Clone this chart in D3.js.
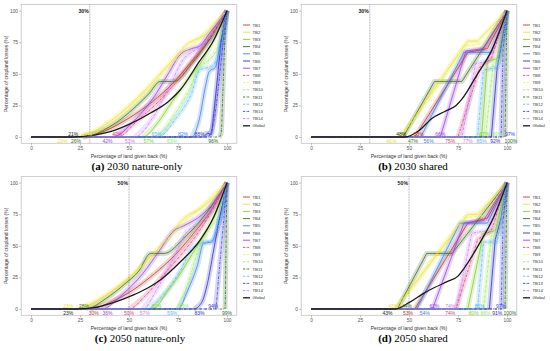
<!DOCTYPE html>
<html>
<head>
<meta charset="utf-8">
<script src="https://cdn.jsdelivr.net/npm/d3@7"></script>
<style>
  body { margin: 0; background: #fff; }
  svg { display: block; }
</style>
</head>
<body>
<script>
// series
const seriesNames = ["TB1","TB2","TB3","TB4","TB5","TB6","TB7","TB8","TB9","TB10","TB11","TB12","TB13","TB14","Global"];
const axisTicks = [0, 25, 50, 75, 100];

// palette (kept apart from data)
const seriesColors = ["#c0392b","#e8e42a","#7ed321","#3f6e22","#3d7ff5","#3030c8","#9b40f0",
                      "#d9437a","#f0f060","#90ee60","#2e6a1f","#5ab4ff","#3a3af0","#c77dff","#1a1a1a"];
const seriesDashed = [false,false,false,false,false,false,false,true,true,true,true,true,true,true,false];

// [land given back %, cropland losses %] per series, order as seriesNames
const curves2030Nature = [
  [[0,0],[27,0],[38,5],[50,15],[62,28],[72,42],[82,60],[90,75],[100,100]],
  [[0,0],[23,0],[35,7],[45,18],[57,35],[70,57],[81,75],[88,80],[100,100]],
  [[0,0],[57,0],[65,12],[72,28],[80,45],[88,62],[100,100]],
  [[0,0],[26,0],[40,8],[52,22],[60,34],[66,44],[73,44],[82,58],[91,77],[100,100]],
  [[0,0],[82,0],[86,15],[89,40],[91,52],[94,55],[97,78],[100,100]],
  [[0,0],[88,0],[90,3],[92,2],[93,15],[95,45],[97,75],[100,100]],
  [[0,0],[42,0],[52,12],[62,30],[70,50],[76,65],[82,70],[86,72],[91,82],[100,100]],
  [[0,0],[44,0],[55,14],[65,28],[75,45],[85,65],[100,100]],
  [[0,0],[27,0],[36,6],[48,20],[60,38],[72,58],[84,75],[100,100]],
  [[0,0],[65,0],[72,15],[80,35],[86,55],[90,60],[95,70],[100,100]],
  [[0,0],[96,0],[97,3],[98,40],[99,80],[100,100]],
  [[0,0],[65,0],[74,15],[82,35],[86,53],[92,56],[96,65],[100,100]],
  [[0,0],[90,0],[93,10],[96,45],[98,75],[100,100]],
  [[0,0],[53,0],[62,15],[70,38],[78,62],[85,70],[92,80],[100,100]],
  [[0,0],[21,0],[30,1],[40,4],[50,10],[61,19],[70,28],[76,37],[86,60],[93,76],[100,100]]
];
const curves2030Shared = [
  [[0,0],[53,0],[80,67],[90,70],[100,100]],
  [[0,0],[46,0],[80,76],[85,76],[100,100]],
  [[0,0],[87,0],[90,60],[95,62],[100,100]],
  [[0,0],[47,0],[63,44],[77,44],[100,100]],
  [[0,0],[56,0],[78,67],[92,67],[100,100]],
  [[0,0],[92,0],[95,55],[97,72],[100,100]],
  [[0,0],[66,0],[79,68],[88,70],[100,100]],
  [[0,0],[75,0],[86,55],[92,62],[100,100]],
  [[0,0],[46,0],[78,72],[88,74],[100,100]],
  [[0,0],[89,0],[93,58],[97,60],[100,100]],
  [[0,0],[99,0],[100,100]],
  [[0,0],[85,0],[88,53],[95,55],[100,100]],
  [[0,0],[97,0],[98,70],[100,100]],
  [[0,0],[77,0],[84,58],[90,60],[100,100]],
  [[0,0],[48,0],[55,5],[62,15],[68,20],[74,25],[77,30],[85,50],[92,68],[100,100]]
];
const curves2050Nature = [
  [[0,0],[30,0],[40,5],[52,15],[63,28],[73,42],[83,60],[91,76],[100,100]],
  [[0,0],[23,0],[35,8],[47,21],[57,35],[68,53],[79,73],[87,80],[100,100]],
  [[0,0],[62,0],[70,15],[77,30],[84,48],[90,63],[100,100]],
  [[0,0],[28,0],[38,8],[48,20],[55,30],[61,44],[68,44],[78,56],[89,75],[100,100]],
  [[0,0],[75,0],[80,15],[85,35],[88,52],[92,53],[96,70],[100,100]],
  [[0,0],[83,0],[87,5],[90,20],[93,45],[96,70],[100,100]],
  [[0,0],[36,0],[47,12],[57,28],[65,45],[73,62],[78,66],[85,72],[92,82],[100,100]],
  [[0,0],[50,0],[58,10],[67,26],[76,42],[86,62],[100,100]],
  [[0,0],[25,0],[34,6],[47,20],[58,36],[70,56],[82,74],[100,100]],
  [[0,0],[75,0],[80,20],[85,45],[90,62],[95,72],[100,100]],
  [[0,0],[99,0],[99.5,50],[100,100]],
  [[0,0],[59,0],[68,12],[76,30],[82,48],[86,52],[92,54],[96,68],[100,100]],
  [[0,0],[94,0],[96,30],[98,65],[100,100]],
  [[0,0],[57,0],[64,15],[72,38],[79,60],[86,68],[93,80],[100,100]],
  [[0,0],[23,0],[32,1],[42,5],[52,11],[60,17],[66,23],[76,37],[86,54],[93,72],[100,100]]
];
const curves2050Shared = [
  [[0,0],[53,0],[80,68],[90,72],[100,100]],
  [[0,0],[43,0],[80,75],[85,75],[100,100]],
  [[0,0],[80,0],[88,60],[94,62],[100,100]],
  [[0,0],[44,0],[59,44],[72,44],[100,100]],
  [[0,0],[54,0],[76,68],[90,68],[100,100]],
  [[0,0],[91,0],[94,55],[97,72],[100,100]],
  [[0,0],[62,0],[78,68],[88,70],[100,100]],
  [[0,0],[74,0],[85,55],[92,62],[100,100]],
  [[0,0],[43,0],[78,72],[88,74],[100,100]],
  [[0,0],[88,0],[92,58],[96,60],[100,100]],
  [[0,0],[99,0],[100,100]],
  [[0,0],[85,0],[88,53],[95,53],[100,100]],
  [[0,0],[97,0],[98,70],[100,100]],
  [[0,0],[74,0],[82,60],[90,62],[100,100]],
  [[0,0],[43,0],[50,5],[57,12],[63,17],[70,22],[75,26],[78,32],[86,52],[93,72],[100,100]]
];

// threshold labels: [text, series index, x position (%), row]
const labels2030Nature = [
  ["21%",14,21.5,"up"],["27%",8,28.5,"up"],["42%",7,44,"up"],["65%",11,64,"up"],["82%",4,77.5,"up"],["88%",5,86,"up"],
  ["23%",1,16,"low"],["26%",3,23,"low"],["42%",6,39,"low"],["53%",13,50.5,"low"],["57%",2,60,"low"],["65%",9,72,"low"],["96%",10,93,"low"]
];
const labels2030Shared = [
  ["48%",14,46,"up"],["53%",0,55,"up"],["66%",6,66,"up"],["87%",2,88.5,"up"],["89%",9,95,"up"],["97%",12,101.5,"up"],
  ["46%",1,41,"low"],["47%",3,52,"low"],["56%",4,60,"low"],["75%",7,71,"low"],["77%",13,80,"low"],["85%",11,87,"low"],["92%",5,94,"low"],["100%",10,102,"low"]
];
const labels2050Nature = [
  ["23%",1,19,"up"],["28%",3,27,"up"],["62%",2,64,"up"],["75%",9,78,"up"],["94%",12,93,"up"],
  ["23%",14,19,"low"],["30%",0,32,"low"],["36%",6,39,"low"],["50%",7,50,"low"],["57%",13,58,"low"],["59%",11,72,"low"],["83%",5,86,"low"],["99%",10,100,"low"]
];
const labels2050Shared = [
  ["43%",1,42,"up"],["44%",3,49,"up"],["62%",6,63,"up"],["74%",13,71,"up"],["85%",11,86,"up"],["97%",12,97,"up"],
  ["43%",14,39,"low"],["53%",0,49.5,"low"],["54%",4,58,"low"],["74%",7,71,"low"],["80%",2,83,"low"],["88%",9,89,"low"],["91%",5,95,"low"],["100%",10,101.5,"low"]
];

const panelTags = ["(a)","(b)","(c)","(d)"];
const panelTitles = ["2030 nature-only","2030 shared","2050 nature-only","2050 shared"];
const panelCuts = [30, 30, 50, 50];

var svg = d3.select("body").append("svg").attr("width", 550).attr("height", 351);

var x = d3.scaleLinear().domain([-5, 105]).range([21.2, 236.8]);
var y = d3.scaleLinear().domain([-5, 105]).range([143.3, 4.4]);

var smooth = d3.line().x(d => x(d[0])).y(d => y(d[1])).curve(d3.curveMonotoneX);
var straight = d3.line().x(d => x(d[0])).y(d => y(d[1]));

var panels = [
  {dx: 0,   dy: 0,   capX: 137, curves: curves2030Nature, labels: labels2030Nature, shared: false},
  {dx: 280, dy: 0,   capX: 133, curves: curves2030Shared, labels: labels2030Shared, shared: true},
  {dx: 0,   dy: 172, capX: 140, curves: curves2050Nature, labels: labels2050Nature, shared: false},
  {dx: 280, dy: 172, capX: 133, curves: curves2050Shared, labels: labels2050Shared, shared: true}
];

function drawPanel(p, i){
  var g = svg.append("g").attr("transform", `translate(${p.dx},${p.dy})`);

  g.append("rect")
    .attr("x", x(-5)).attr("y", y(105))
    .attr("width", x(105) - x(-5)).attr("height", y(-5) - y(105))
    .attr("fill", "#fff").attr("stroke", "#c4c4c4").attr("stroke-width", 0.8);

  var xa = g.append("g").attr("transform", `translate(0,${y(-5)})`)
    .call(d3.axisBottom(x).tickValues(axisTicks).tickSize(2).tickPadding(1.2));
  var ya = g.append("g").attr("transform", `translate(${x(-5)},0)`)
    .call(d3.axisLeft(y).tickValues(axisTicks).tickSize(2).tickPadding(1.2));
  [xa, ya].forEach(a => {
    a.select(".domain").remove();
    a.selectAll("line").attr("stroke", "#999").attr("stroke-width", 0.6);
    a.selectAll("text").attr("fill", "#555").style("font-family", "Liberation Sans, Arial").style("font-size", "4.8px");
  });

  g.append("text").attr("x", x(50)).attr("y", 157.5).attr("text-anchor", "middle")
    .style("font-family", "Liberation Sans, Arial").style("font-size", "5px").attr("fill", "#333")
    .text("Percentage of land given back (%)");
  g.append("text").attr("transform", `translate(7.5,${y(50)}) rotate(-90)`).attr("text-anchor", "middle")
    .style("font-family", "Liberation Sans, Arial").style("font-size", "5px").attr("fill", "#333")
    .text("Percentage of cropland losses (%)");

  // ribbons (wide translucent bands under each series)
  p.curves.forEach((c, k) => {
    if (k == 14) return;
    g.append("path")
      .attr("d", p.shared ? straight(c.slice(1)) : smooth(c.slice(1)))
      .attr("fill", "none").attr("stroke", seriesColors[k])
      .attr("stroke-width", 5).attr("stroke-opacity", 0.22)
      .attr("stroke-linejoin", "round");
  });

  // series lines, Global on top
  p.curves.forEach((c, k) => {
    g.append("path")
      .attr("d", (p.shared && k != 14) ? straight(c) : smooth(c))
      .attr("fill", "none").attr("stroke", seriesColors[k])
      .attr("stroke-width", k == 14 ? 1.3 : 0.8)
      .attr("stroke-dasharray", seriesDashed[k] ? "2.5,1,0.6,1" : null);
  });

  // cut-off line
  var cut = panelCuts[i];
  g.append("line").attr("x1", x(cut)).attr("x2", x(cut)).attr("y1", y(105)).attr("y2", y(-5))
    .attr("stroke", "#555").attr("stroke-width", 0.6).attr("stroke-dasharray", "0.8,0.8");
  g.append("text").attr("x", x(cut) - 1).attr("y", y(100) + 2.2).attr("text-anchor", "end")
    .style("font-family", "Liberation Sans, Arial").style("font-size", "5.2px").style("font-weight", "bold")
    .attr("fill", "#222").text(cut + "%");

  // threshold labels
  p.labels.forEach(l => {
    g.append("text").attr("x", x(l[2])).attr("y", l[3] == "up" ? 135.8 : 142.8)
      .attr("text-anchor", "middle")
      .style("font-family", "Liberation Sans, Arial").style("font-size", "5px")
      .attr("fill", l[1] == 14 ? "#222" : seriesColors[l[1]])
      .text(l[0]);
  });

  // legend
  var lg = g.append("g");
  seriesNames.forEach((n, k) => {
    var ly = 25 + k * 7.2;
    lg.append("line").attr("x1", 243).attr("x2", 250).attr("y1", ly).attr("y2", ly)
      .attr("stroke", seriesColors[k]).attr("stroke-width", k == 14 ? 1.3 : 0.9)
      .attr("stroke-dasharray", seriesDashed[k] ? "2,0.8,0.6,0.8" : null);
    lg.append("text").attr("x", 252.5).attr("y", ly + 1.5)
      .style("font-family", "Liberation Sans, Arial").style("font-size", "4.3px").attr("fill", "#333")
      .text(n);
  });

  // caption
  var cap = g.append("text").attr("x", p.capX).attr("y", 170).attr("text-anchor", "middle")
    .style("font-family", "Liberation Serif, Times New Roman, serif").style("font-size", "11px").attr("fill", "#000");
  cap.append("tspan").style("font-weight", "bold").text(panelTags[i]);
  cap.append("tspan").text(" " + panelTitles[i]);
}

panels.forEach(drawPanel);
</script>
</body>
</html>
